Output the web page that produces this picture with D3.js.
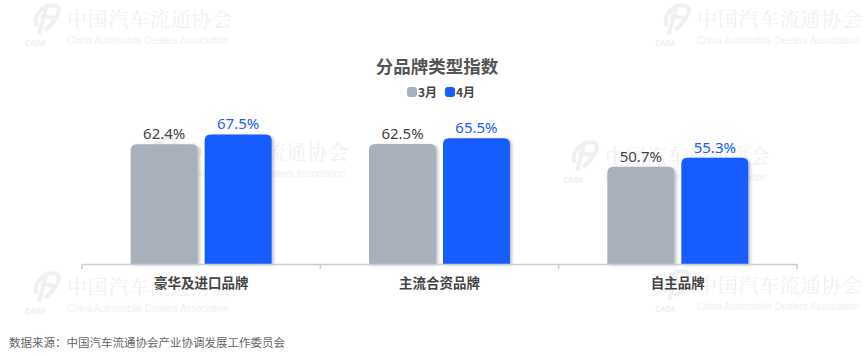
<!DOCTYPE html>
<html><head><meta charset="utf-8">
<script src="https://cdn.jsdelivr.net/npm/d3@7"></script>
<style>
html,body{margin:0;padding:0;background:#fff;}
svg{display:block;font-family:"Noto Sans","Noto Sans CJK SC",sans-serif;}
</style></head>
<body>
<svg id="chart" width="865" height="356"></svg>
<script>
const categories = ["豪华及进口品牌", "主流合资品牌", "自主品牌"];
const seriesNames = ["3月", "4月"];
const march = [62.4, 62.5, 50.7];
const april = [67.5, 65.5, 55.3];
const title = "分品牌类型指数";
const source = "数据来源：中国汽车流通协会产业协调发展工作委员会";

const colors = ["#a8b0bc", "#175cff"];
const labelColors = ["#444444", "#175cff"];
const svg = d3.select("#chart");

// watermarks
const wmPos = [[67,20],[697,20],[183,153],[605,157],[67,288],[697,286]];
const wm = svg.append("g").attr("class","watermarks");
wmPos.forEach(([x,y]) => {
  const g = wm.append("g").attr("transform", `translate(${x},${y})`);
  g.append("path")
    .attr("d","M-30,6 C-36,-6 -20,-18 -10,-14 C-4,-10 -14,4 -22,10 M-26,-4 L-12,-2 M-20,-16 L-28,14")
    .attr("fill","none").attr("stroke","#f0f0f0").attr("stroke-width",4);
  g.append("text").attr("x",-42).attr("y",26).attr("font-size",8).attr("font-style","italic")
    .attr("font-weight","bold").attr("fill","#f0f0f0").text("CADA");
  g.append("text").attr("x",0).attr("y",7)
    .attr("font-family","'Noto Serif CJK SC','Noto Sans CJK SC',serif")
    .attr("font-size",20).attr("fill","#f0f0f0").attr("textLength",165).text("中国汽车流通协会");
  g.append("text").attr("x",0).attr("y",24)
    .attr("font-family","'Liberation Sans',Arial,sans-serif")
    .attr("font-size",10).attr("fill","#f0f0f0")
    .attr("textLength",162).attr("lengthAdjust","spacingAndGlyphs")
    .text("China Automobile Dealers Association");
});

// title
svg.append("text").attr("x", 437).attr("y", 73).attr("text-anchor","middle")
  .attr("font-family","'Noto Sans CJK SC',sans-serif")
  .attr("font-size", 17.5).attr("font-weight","bold").attr("fill","#555").text(title);

// legend
const legend = svg.append("g");
const legX = [407, 445];
seriesNames.forEach((s,i) => {
  legend.append("rect").attr("x", legX[i]).attr("y", 87).attr("width", 10).attr("height", 10)
    .attr("rx", 3).attr("fill", colors[i]);
  legend.append("text").attr("x", legX[i] + 11).attr("y", 96.5)
    .attr("font-family","'Noto Sans CJK SC',sans-serif")
    .attr("font-size", 12).attr("font-weight","bold").attr("fill","#444").text(s);
});

// scales
const x0 = d3.scaleBand().domain(categories).range([82, 797]).paddingInner(0).paddingOuter(0);
const x1 = d3.scaleBand().domain(seriesNames).range([0, x0.bandwidth()]).paddingInner(0.0946).paddingOuter(0.658);
const y = d3.scaleLinear().domain([0, 100]).range([264, 72]);

// shadow filter
const defs = svg.append("defs");
const f = defs.append("filter").attr("id","sh").attr("x","-20%").attr("y","-20%").attr("width","150%").attr("height","150%");
f.append("feDropShadow").attr("dx",2).attr("dy",1).attr("stdDeviation",1.5).attr("flood-color","#000").attr("flood-opacity",0.25);

const data = categories.map((c,i) => ({cat:c, vals:[march[i], april[i]]}));

function topRounded(x, yTop, w, h, r) {
  return `M${x},${yTop+h} L${x},${yTop+r} Q${x},${yTop} ${x+r},${yTop} L${x+w-r},${yTop} Q${x+w},${yTop} ${x+w},${yTop+r} L${x+w},${yTop+h} Z`;
}

const groups = svg.append("g").selectAll("g").data(data).join("g")
  .attr("transform", d => `translate(${x0(d.cat)},0)`);

groups.selectAll("path").data(d => d.vals.map((v,i)=>({s:seriesNames[i], v, i}))).join("path")
  .attr("d", d => topRounded(x1(d.s), y(d.v), x1.bandwidth(), y(0) - y(d.v), 6))
  .attr("fill", d => colors[d.i]).attr("filter","url(#sh)");

groups.selectAll("text.val").data(d => d.vals.map((v,i)=>({s:seriesNames[i], v, i}))).join("text")
  .attr("class","val")
  .attr("x", d => x1(d.s) + x1.bandwidth()/2).attr("y", d => y(d.v) - 5)
  .attr("text-anchor","middle").attr("font-size", 15).attr("fill", d => labelColors[d.i])
  .text(d => d.v.toFixed(1) + "%");

// axis
const axis = svg.append("g").attr("transform", `translate(0,${y(0)})`)
  .call(d3.axisBottom(x0).tickSize(0).tickPadding(14).tickSizeOuter(0));
axis.select(".domain").attr("stroke","#cccccc").attr("stroke-width",1.5);
axis.selectAll(".tick text").attr("font-family","'Noto Sans CJK SC',sans-serif")
  .attr("font-size", 13.5).attr("font-weight","bold").attr("fill","#444");
const bounds = categories.map(c => x0(c)).concat([x0(categories[categories.length-1]) + x0.bandwidth()]);
axis.selectAll("line.bd").data(bounds).join("line").attr("class","bd")
  .attr("x1", d=>d).attr("x2", d=>d).attr("y1",0).attr("y2",5)
  .attr("stroke","#cccccc").attr("stroke-width",1.5);

// source
svg.append("text").attr("x", 9).attr("y", 347)
  .attr("font-family","'Noto Sans CJK SC',sans-serif")
  .attr("font-size", 11.5).attr("fill","#666").text(source);
</script>
</body></html>
